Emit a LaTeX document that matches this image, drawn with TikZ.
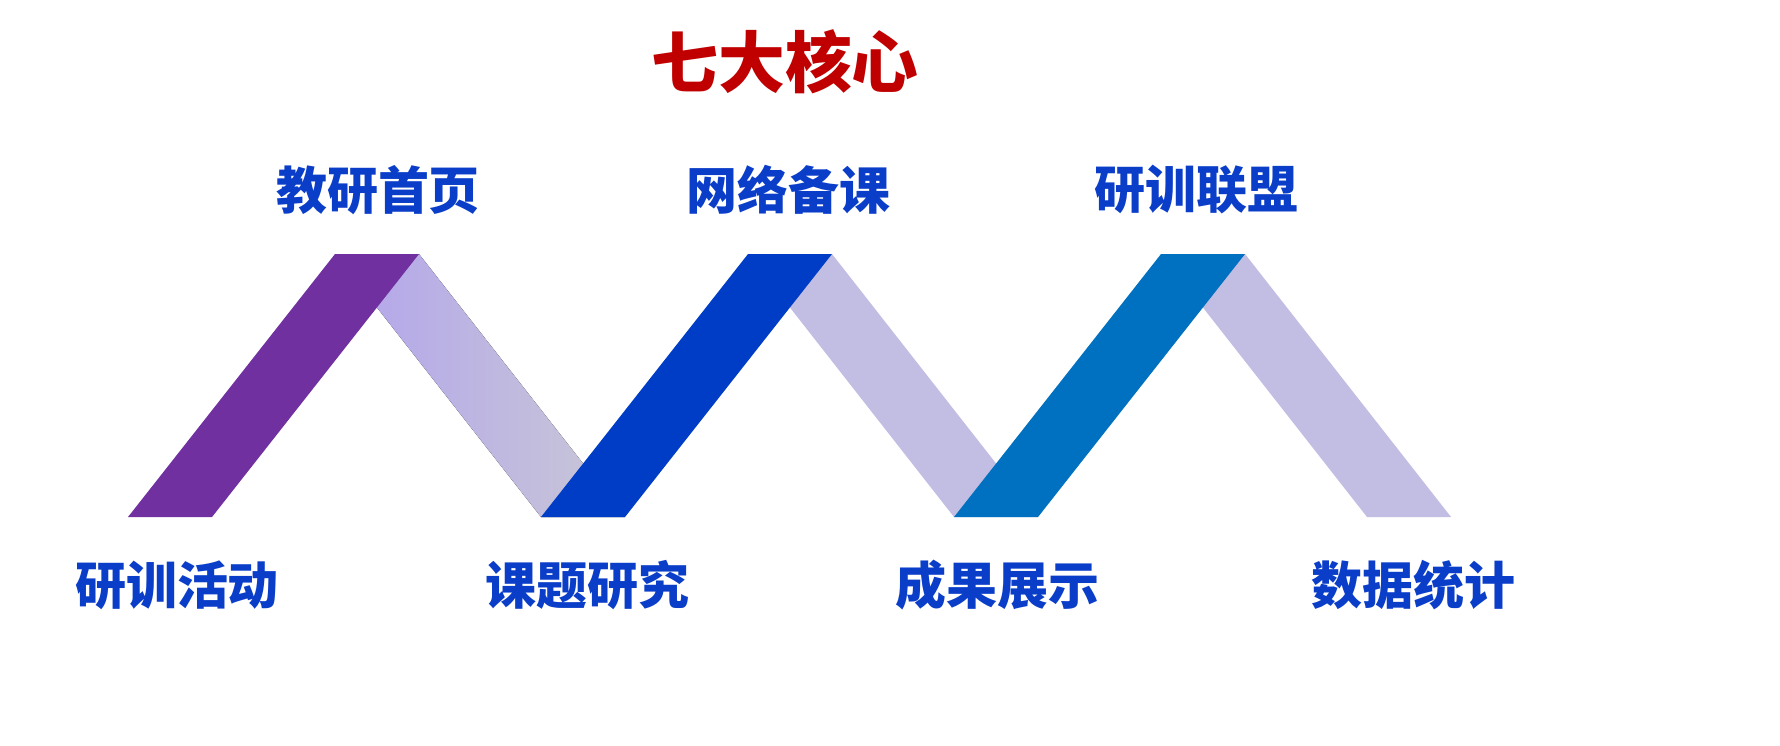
\documentclass[tikz,border=0pt]{standalone}
\usepackage{fontspec}
\setmainfont{Noto Sans CJK SC}
\usepackage{tikz}
\definecolor{titlered}{HTML}{C00000}
\definecolor{labelblue}{HTML}{0B3EC8}
\definecolor{bandpurple}{HTML}{7030A0}
\definecolor{bandblue}{HTML}{003DC6}
\definecolor{bandteal}{HTML}{0070C0}
\definecolor{bandlight}{HTML}{C2BDE3}
\definecolor{fadeleft}{HTML}{B2A4EC}
\definecolor{faderight}{HTML}{C9C8D6}
\begin{document}
\begin{tikzpicture}[x=0.01cm,y=-0.01cm]
	\def \peak{254}
	\def \valley{517}
	\def \uprow{190}
	\def \lowrow{585}
	\tikzstyle{title}=[text=titlered,font=\fontsize{19pt}{19pt}\selectfont\bfseries]
	\tikzstyle{label}=[text=labelblue,font=\fontsize{14.5pt}{14.5pt}\selectfont\bfseries]
	\useasboundingbox (0,0) rectangle (1780,745);
	% light bands going down
	\fill[left color=fadeleft,right color=faderight] (335,\peak) -- (419,\peak) -- (625,\valley) -- (541,\valley) -- cycle;
	\fill[bandlight] (748,\peak) -- (832,\peak) -- (1038,\valley) -- (954,\valley) -- cycle;
	\fill[bandlight] (1161,\peak) -- (1245,\peak) -- (1451,\valley) -- (1367,\valley) -- cycle;
	% coloured bands going up
	\fill[bandpurple] (128,\valley) -- (212,\valley) -- (419,\peak) -- (335,\peak) -- cycle;
	\fill[bandblue] (541,\valley) -- (625,\valley) -- (832,\peak) -- (748,\peak) -- cycle;
	\fill[bandteal] (954,\valley) -- (1038,\valley) -- (1245,\peak) -- (1161,\peak) -- cycle;
	% texts
	\node[title] (heading) at (785,62) {七大核心};
	\node[label] (home)    at (378,\uprow) {教研首页};
	\node[label] (prep)    at (788,\uprow) {网络备课};
	\node[label] (league)  at (1196,\uprow) {研训联盟};
	\node[label] (events)  at (177,\lowrow) {研训活动};
	\node[label] (topics)  at (587,\lowrow) {课题研究};
	\node[label] (results) at (997,\lowrow) {成果展示};
	\node[label] (stats)   at (1413,\lowrow) {数据统计};
\end{tikzpicture}
\end{document}
